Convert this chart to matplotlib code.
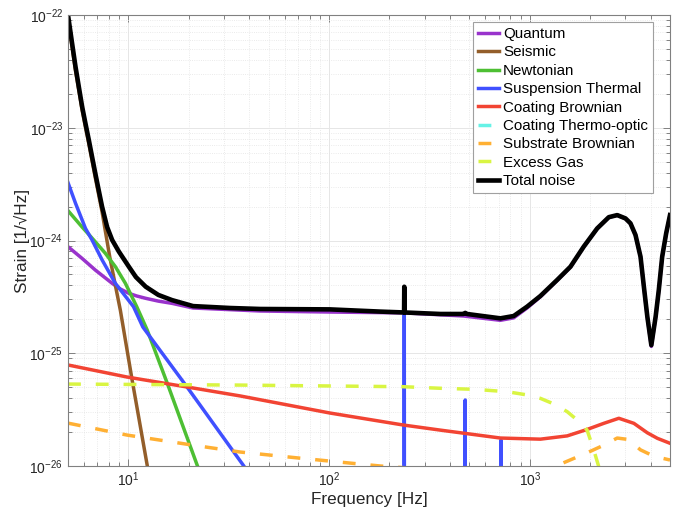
import matplotlib
matplotlib.use('Agg')
import matplotlib.pyplot as plt

plt.rcParams['font.family'] = ['Liberation Sans', 'DejaVu Sans']
plt.rcParams['mathtext.fontset'] = 'custom'
plt.rcParams['mathtext.rm'] = 'Liberation Sans'
plt.rcParams['mathtext.default'] = 'regular'

# noise curves, frequency [Hz] and strain [1/sqrt(Hz)]
quantum_f = [5.0, 5.87, 6.84, 8.30, 9.10, 10.05, 11.0, 12.2, 14.1, 16.5, 21.0, 45.4, 101, 237, 467,
             714, 832, 970, 1130, 1370, 1596, 1857, 2168, 2477, 2729, 3000, 3177, 3365, 3565, 3705,
             3855, 4036, 4240, 4397, 4571, 4786, 5000]
quantum_h = [8.81e-25, 6.95e-25, 5.47e-25, 4.17e-25, 3.72e-25, 3.40e-25, 3.22e-25, 3.07e-25, 2.90e-25,
             2.77e-25, 2.52e-25, 2.37e-25, 2.32e-25, 2.28e-25, 2.14e-25, 1.96e-25, 2.06e-25, 2.52e-25,
             3.17e-25, 4.43e-25, 5.82e-25, 8.77e-25, 1.275e-24, 1.605e-24, 1.675e-24, 1.565e-24,
             1.415e-24, 1.115e-24, 7.15e-25, 3.86e-25, 2.09e-25, 1.15e-25, 2.09e-25, 3.61e-25, 7.15e-25,
             1.155e-24, 1.675e-24]

seismic_f = [5.0, 5.24, 5.45, 5.66, 5.88, 6.11, 6.35, 6.59, 6.84, 7.11, 7.39, 8.07, 8.61, 9.12,
             10.4, 12.4, 12.9]
seismic_h = [9.3e-23, 5.2e-23, 3.2e-23, 2.15e-23, 1.43e-23, 1.01e-23, 7.2e-24, 5.1e-24, 3.6e-24,
             2.55e-24, 1.8e-24, 7.18e-25, 4.0e-25, 2.4e-25, 6.0e-26, 1.02e-26, 6.8e-27]

newtonian_f = [5.0, 5.87, 6.59, 7.67, 8.61, 9.66, 11.0, 12.4, 15.6, 22.0, 22.9]
newtonian_h = [1.84e-24, 1.32e-24, 1.05e-24, 7.71e-25, 5.86e-25, 4.17e-25, 2.59e-25, 1.61e-25,
               5.45e-26, 1.02e-26, 8.5e-27]

susp_f = [5.0, 5.45, 6.11, 6.59, 7.40, 8.61, 10.6, 11.8, 19.6, 37.3, 40.0, 100,
          236.5, 237, 237.5, 476.5, 477, 477.5, 718.5, 719, 719.5, 5000]
susp_h = [3.26e-24, 2.14e-24, 1.28e-24, 1.01e-24, 6.71e-25, 4.17e-25, 2.59e-25, 1.71e-25, 5.02e-26,
          1.02e-26, 8.5e-27, 1.2e-27,
          5e-28, 2.34e-25, 5e-28, 4e-28, 3.85e-26, 4e-28, 3e-28, 1.70e-26, 3e-28, 1e-28]

coat_brown_f = [5.0, 9.86, 19.6, 36.1, 101, 234, 359, 714, 1130, 1538, 1932, 2339, 2780, 3304,
                3855, 4325, 5000]
coat_brown_h = [7.87e-26, 6.15e-26, 5.02e-26, 4.18e-26, 2.95e-26, 2.31e-26, 2.08e-26, 1.77e-26,
                1.73e-26, 1.85e-26, 2.11e-26, 2.39e-26, 2.65e-26, 2.39e-26, 1.97e-26, 1.76e-26, 1.59e-26]

coat_to_f = [5.0, 100, 1000, 5000]
coat_to_h = [2e-27, 1.5e-27, 2e-27, 3e-27]

substrate_f = [5.0, 9.86, 21.0, 36.1, 69.5, 128, 180, 316, 631, 1000, 1315, 1932, 2339, 2729,
               3090, 3565, 4160, 5000]
substrate_h = [2.40e-26, 1.88e-26, 1.53e-26, 1.33e-26, 1.18e-26, 1.06e-26, 1.0e-26, 9.3e-27,
               8.8e-27, 9.1e-27, 9.8e-27, 1.31e-26, 1.53e-26, 1.77e-26, 1.72e-26, 1.39e-26,
               1.22e-26, 1.13e-26]

gas_f = [5.0, 36.1, 234, 359, 526, 771, 970, 1130, 1318, 1538, 1723, 1932, 2084, 2208, 2265]
gas_h = [5.33e-26, 5.22e-26, 5.05e-26, 4.89e-26, 4.79e-26, 4.56e-26, 4.27e-26, 3.98e-26, 3.55e-26,
         3.03e-26, 2.56e-26, 2.08e-26, 1.39e-26, 9.86e-27, 8.3e-27]

total_f = [5.0, 5.24, 5.45, 5.66, 5.88, 6.11, 6.35, 6.59, 6.84, 7.11, 7.39, 7.83, 8.30, 8.96,
           10.05, 10.9, 12.2, 14.1, 16.5, 21.0, 32.1, 45.4, 101, 181, 236.5, 237, 237.5, 359, 467,
           477, 487, 714, 832, 970, 1130, 1370, 1596, 1857, 2168, 2477, 2729, 3000, 3177, 3365,
           3565, 3705, 3855, 4036, 4240, 4397, 4571, 4786, 5000]
total_h = [1.0e-22, 5.61e-23, 3.48e-23, 2.31e-23, 1.54e-23, 1.09e-23, 7.78e-24, 5.53e-24, 3.94e-24,
           2.80e-24, 2.00e-24, 1.32e-24, 1.01e-24, 7.98e-25, 5.86e-25, 4.74e-25, 3.89e-25, 3.29e-25,
           2.96e-25, 2.62e-25, 2.52e-25, 2.47e-25, 2.45e-25, 2.34e-25, 2.30e-25, 3.89e-25, 2.30e-25,
           2.23e-25, 2.23e-25, 2.28e-25, 2.23e-25, 2.04e-25, 2.14e-25, 2.59e-25, 3.22e-25, 4.47e-25,
           5.86e-25, 8.81e-25, 1.28e-24, 1.61e-24, 1.68e-24, 1.57e-24, 1.42e-24, 1.12e-24, 7.18e-25,
           3.89e-25, 2.11e-25, 1.18e-25, 2.11e-25, 3.64e-25, 7.18e-25, 1.16e-24, 1.68e-24]

fig = plt.figure(figsize=(6.73, 5.08), dpi=100)
ax = fig.add_axes([68 / 673, 1 - 466 / 508, 602 / 673, 451 / 508])

lw = 2.5
dash = (3.7, 4.3)
ax.loglog(quantum_f, quantum_h, color='#9933cc', lw=lw, label='Quantum')
ax.loglog(seismic_f, seismic_h, color='#935e2a', lw=lw, label='Seismic')
ax.loglog(newtonian_f, newtonian_h, color='#4dbf33', lw=lw, label='Newtonian')
ax.loglog(susp_f, susp_h, color='#4050ff', lw=lw, label='Suspension Thermal')
ax.loglog(coat_brown_f, coat_brown_h, color='#f24433', lw=lw, label='Coating Brownian')
ax.loglog(coat_to_f, coat_to_h, color='#66f2e6', lw=lw, dashes=dash, dash_capstyle='butt',
          label='Coating Thermo-optic')
ax.loglog(substrate_f, substrate_h, color='#ffb033', lw=lw, dashes=dash, dash_capstyle='butt',
          label='Substrate Brownian')
ax.loglog(gas_f, gas_h, color='#d9f542', lw=lw, dashes=dash, dash_capstyle='butt',
          label='Excess Gas')
ax.loglog(total_f, total_h, color='black', lw=3.3, label='Total noise')

ax.set_xlim(5, 5000)
ax.set_ylim(1e-26, 1e-22)
ax.grid(True, which='major', color='#e6e6e6', lw=0.7)
ax.grid(True, which='minor', color='#e3e3e3', lw=0.6, ls=':')
ax.set_axisbelow(True)
ax.tick_params(which='both', direction='in', top=True, right=True, colors='#808080',
               labelcolor='#262626', labelsize=10, width=0.7)
ax.tick_params(which='major', length=5)
ax.tick_params(which='minor', length=3)
for s in ax.spines.values():
    s.set_color('#808080')
    s.set_linewidth(0.8)

ax.set_xlabel('Frequency [Hz]', fontsize=12.3, color='#262626', labelpad=1.5)
ax.set_ylabel('Strain [1/\u221aHz]', fontsize=12.3, color='#262626')
ax.yaxis.set_label_coords(-0.063, 0.5)

leg = ax.legend(loc='upper right', bbox_to_anchor=(0.972, 0.985), borderaxespad=0,
                fontsize=10.9, handlelength=1.4, handletextpad=0.25, labelspacing=0.29,
                borderpad=0.35, fancybox=False, framealpha=1, edgecolor='#a0a0a0')
leg.get_frame().set_linewidth(0.8)

fig.savefig('out.png', dpi=100)
